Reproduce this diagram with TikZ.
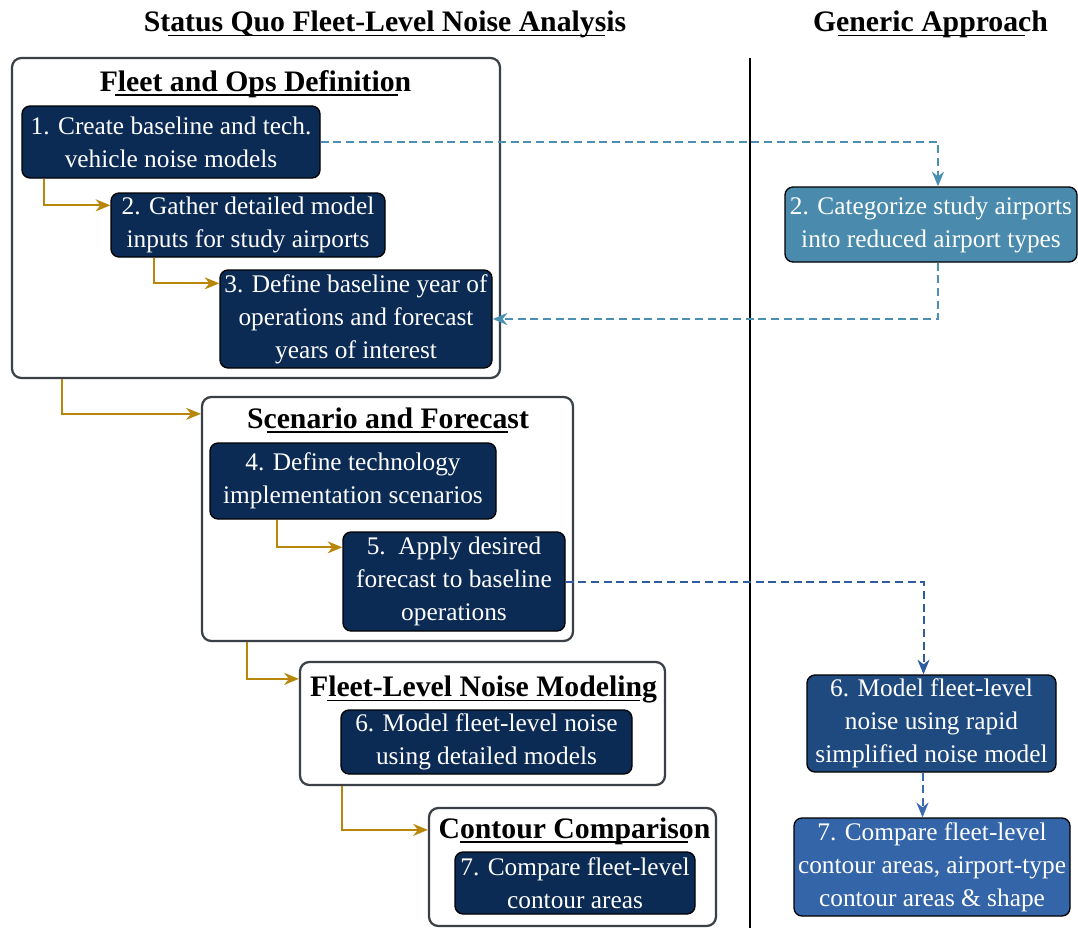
\documentclass[tikz,border=0pt]{standalone}
\usepackage{fontspec}
\setmainfont{Liberation Serif}
\usetikzlibrary{arrows.meta,calc}
\definecolor{navy}{HTML}{0B2B55}
\definecolor{steel}{HTML}{4A8BAD}
\definecolor{midblue}{HTML}{1F4A80}
\definecolor{brightblue}{HTML}{3465A8}
\definecolor{gold}{HTML}{B8860B}
\definecolor{framegray}{HTML}{3A4045}
\definecolor{dashA}{HTML}{4A90B2}
\definecolor{dashB}{HTML}{2F5C9E}
\definecolor{dashC}{HTML}{3A6AB0}
\begin{document}
\begin{tikzpicture}[x=0.75pt,y=-0.75pt,
  stepbox/.style={draw=black, line width=1pt, rounded corners=6pt, fill=navy, text=white,
    align=center, font=\fontsize{19}{24.75}\selectfont, inner sep=0pt},
  group/.style={draw=framegray, line width=1.7pt, rounded corners=7pt, inner sep=0pt},
  sz/.style 2 args={minimum width=#1*0.75pt, minimum height=#2*0.75pt},
  head/.style={font=\fontsize{22.3}{26}\selectfont\bfseries, anchor=base, inner sep=0pt},
  uline/.style={line width=1pt},
  flow/.style={draw=gold, line width=1.4pt, -{Stealth[length=11pt,width=9pt,inset=3.5pt]}},
  dflow/.style={line width=1.5pt, dash pattern=on 6pt off 3.5pt, -{Stealth[length=11pt,width=9pt,inset=3.5pt]}}
]
\useasboundingbox (0,0) rectangle (1078,928);

% titles
\node[head] (t1) at (385,31.5) {Status Quo Fleet-Level Noise Analysis};
\draw[uline] (168,35.5) -- (605,35.5);
\node[head] (t2) at (930.5,31.5) {Generic Approach};
\draw[uline] (838,35.5) -- (1025,35.5);

% divider
\draw[line width=1.5pt] (750,58) -- (750,928);

% groups
\node[group, sz={488}{320}] (gA) at (256,218) {};
\node[group, sz={371}{244}] (gB) at (387.5,519) {};
\node[group, sz={365}{123}] (gC) at (482.5,723.5) {};
\node[group, sz={287}{118}] (gD) at (572.5,867) {};

\node[head] (hA) at (255.5,91) {Fleet and Ops Definition};
\draw[uline] (115,95) -- (398,95);
\node[head] (hB) at (388,428) {Scenario and Forecast};
\draw[uline] (267,432) -- (508,432);
\node[head] (hC) at (483.5,696.5) {Fleet-Level Noise Modeling};
\draw[uline] (327,700.5) -- (640,700.5);
\node[head] (hD) at (574.5,838) {Contour Comparison};
\draw[uline] (460,842) -- (688,842);

% steps
\node[stepbox, sz={298}{72}] (b1) at (171,142) {1. Create baseline and tech.\\vehicle noise models};
\node[stepbox, sz={274}{64}] (b2) at (248,225) {2. Gather detailed model\\inputs for study airports};
\node[stepbox, sz={272}{98}] (b3) at (356,319) {3. Define baseline year of\\operations and forecast\\years of interest};
\node[stepbox, sz={286}{76}] (b4) at (353,481) {4. Define technology\\implementation scenarios};
\node[stepbox, sz={222}{99}] (b5) at (454,581.5) {5.\ \ Apply desired\\forecast to baseline\\operations};
\node[stepbox, sz={291}{64}] (b6) at (486.5,742) {6. Model fleet-level noise\\using detailed models};
\node[stepbox, sz={240}{62}] (b7) at (575,883) {7. Compare fleet-level\\contour areas};

\node[stepbox, fill=steel, sz={292}{75}] (r2) at (931,224.5) {2. Categorize study airports\\into reduced airport types};
\node[stepbox, fill=midblue, sz={249}{97}] (r6) at (931.5,723.5) {6. Model fleet-level\\noise using rapid\\simplified noise model};
\node[stepbox, fill=brightblue, sz={276}{98}] (r7) at (932,867) {7. Compare fleet-level\\contour areas, airport-type\\contour areas \& shape};

% gold flow arrows
\draw[flow] ($(b1.south west)+(23,0)$) |- ($(b2.north west)+(0,13)$);
\draw[flow] ($(b2.south west)+(44,0)$) |- ($(b3.north west)+(0,14)$);
\draw[flow] ($(gA.south west)+(51,0)$) |- ($(gB.north west)+(0,18)$);
\draw[flow] ($(b4.south west)+(68,0)$) |- ($(b5.north west)+(0,16)$);
\draw[flow] ($(gB.south west)+(46,0)$) |- ($(gC.north west)+(0,18)$);
\draw[flow] ($(gC.south west)+(43,0)$) |- ($(gD.north west)+(0,23)$);

% dashed connections
\draw[dflow, draw=dashA] (b1.east) -| ($(r2.north)+(7,0)$);
\draw[dflow, draw=dashA] ($(r2.south)+(7,0)$) |- (b3.east);
\draw[dflow, draw=dashB] (b5.east) -| ($(r6.north)+(-8,0)$);
\draw[dflow, draw=dashC] ($(r6.south)+(-9,0)$) coordinate (r6s) -- (r6s |- r7.north);
\end{tikzpicture}
\end{document}
